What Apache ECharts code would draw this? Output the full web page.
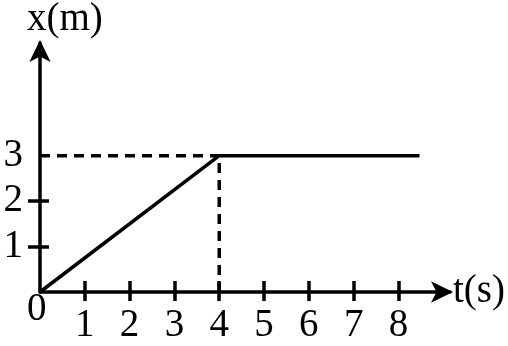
<!DOCTYPE html>
<html><head><meta charset="utf-8">
<script src="https://cdn.jsdelivr.net/npm/echarts@6/dist/echarts.min.js"></script>
<style>html,body{margin:0;padding:0;background:#fff}#c{width:508px;height:346px}</style>
</head><body><div id="c"></div>
<script>
var xTickValues = [1, 2, 3, 4, 5, 6, 7, 8];
var yTickValues = [1, 2];
var yLabelValues = [1, 2, 3];
var motionPath = [[0, 0], [4, 3], [8.47, 3]];
var dashH = [[0, 3], [4, 3]];
var dashV = [[4, 0], [4, 3]];
var xName = 't(s)';
var yName = 'x(m)';
var originLabel = '0';

var FONT = 'Liberation Serif';
var FS = 39;
var LW = 3.5;
var XMAX = 9.15, YMAX = 5.48;
var chart = echarts.init(document.getElementById('c'));
function baseX(extra) {
  return Object.assign({ type: 'value', min: 0, max: XMAX, gridIndex: 0, splitLine: { show: false } }, extra);
}
function baseY(extra) {
  return Object.assign({ type: 'value', min: 0, max: YMAX, gridIndex: 0, splitLine: { show: false } }, extra);
}
chart.setOption({
  backgroundColor: '#fff',
  animation: false,
  grid: { left: 40, top: 40, width: 410, height: 252 },
  xAxis: [
    baseX({
      name: xName, nameLocation: 'end', nameGap: 3,
      nameTextStyle: { fontFamily: FONT, fontSize: FS, color: '#000', verticalAlign: 'middle' },
      axisLine: { show: true, onZero: false, symbol: ['none', 'arrow'], symbolSize: [16, 22], symbolOffset: [0, 3], lineStyle: { color: '#000', width: LW } },
      axisTick: { show: true, customValues: xTickValues, length: 9, lineStyle: { color: '#000', width: LW } },
      axisLabel: { show: true, customValues: xTickValues, margin: 14, fontFamily: FONT, fontSize: FS, color: '#000' }
    }),
    baseX({
      axisLine: { show: false },
      axisTick: { show: true, inside: true, customValues: xTickValues, length: 11, lineStyle: { color: '#000', width: LW } },
      axisLabel: { show: false },
      position: 'bottom'
    })
  ],
  yAxis: [
    baseY({
      name: yName, nameLocation: 'end', nameGap: 4,
      nameTextStyle: { fontFamily: FONT, fontSize: FS, color: '#000', align: 'left', padding: [0, 0, 0, -13] },
      axisLine: { show: true, onZero: false, symbol: ['none', 'arrow'], symbolSize: [16, 22], symbolOffset: [0, 3], lineStyle: { color: '#000', width: LW } },
      axisTick: { show: true, customValues: yTickValues, length: 12, lineStyle: { color: '#000', width: LW } },
      axisLabel: { show: true, customValues: yLabelValues, margin: 17, fontFamily: FONT, fontSize: FS, color: '#000' }
    }),
    baseY({
      position: 'left',
      axisLine: { show: false },
      axisTick: { show: true, inside: true, customValues: yTickValues, length: 9, lineStyle: { color: '#000', width: LW } },
      axisLabel: { show: false }
    })
  ],
  graphic: [{
    type: 'text', left: 27, top: 290,
    style: { text: originLabel, font: FS + 'px "' + FONT + '"', fill: '#000' }
  }],
  series: [
    { type: 'line', data: motionPath, showSymbol: false, lineStyle: { color: '#000', width: LW }, z: 3 },
    { type: 'line', data: dashH, showSymbol: false, lineStyle: { color: '#000', width: LW, type: [10, 7] }, z: 2 },
    { type: 'line', data: dashV, showSymbol: false, lineStyle: { color: '#000', width: LW, type: [10, 7] }, z: 2 }
  ]
});
</script></body></html>
